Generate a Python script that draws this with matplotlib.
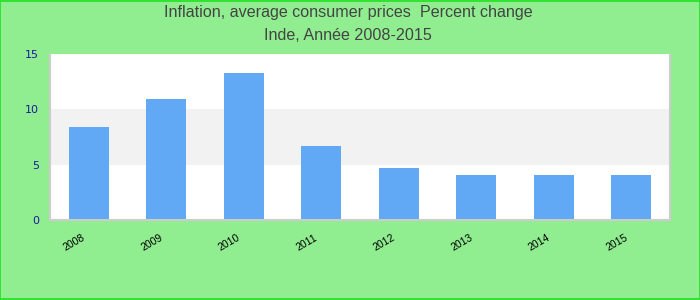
import matplotlib.pyplot as plt
from matplotlib.patches import Rectangle
from matplotlib.transforms import ScaledTranslation

# data
years = ["2008", "2009", "2010", "2011", "2012", "2013", "2014", "2015"]
inflation = [8.4, 10.9, 13.3, 6.7, 4.7, 4.1, 4.1, 4.1]
y_ticks = [0, 5, 10, 15]

title_line1 = "Inflation, average consumer prices  Percent change"
title_line2 = "Inde, Année 2008-2015"

bg = "#90ee90"
bar_color = "#62a9f5"

fig = plt.figure(figsize=(7, 3), dpi=100, facecolor=bg)
ax = fig.add_axes([50 / 700, 80 / 300, 620 / 700, 166 / 300])
ax.set_facecolor("white")

# alternating horizontal bands
ax.axhspan(5, 10, color="#f2f2f2", zorder=0, lw=0)

x = range(len(years))
ax.bar(x, inflation, width=0.52, color=bar_color, zorder=2)

ax.set_xlim(-0.5, len(years) - 0.5)
ax.set_ylim(0, 15)
ax.set_yticks(y_ticks)
ax.set_yticklabels([str(v) for v in y_ticks], color="#1a1a9c",
                   fontsize=8, family="DejaVu Sans")
ax.set_xticks(list(x))
ax.set_xticklabels(years, rotation=30, ha="right", rotation_mode="anchor",
                   fontsize=7.5, family="Liberation Sans", color="black")
ax.tick_params(axis="both", length=0)
ax.tick_params(axis="y", pad=8)
ax.tick_params(axis="x", pad=9)

# nudge the rotated year labels a little to the left
shift = ScaledTranslation(-7 / 100, 0, fig.dpi_scale_trans)
for lbl in ax.get_xticklabels():
    lbl.set_transform(lbl.get_transform() + shift)

for side in ["left", "bottom", "right"]:
    ax.spines[side].set_color("#cccccc")
    ax.spines[side].set_linewidth(1.5)
ax.spines["top"].set_visible(False)

fig.text(0.497, 1 - 13 / 300, title_line1, ha="center", va="center",
         fontsize=11.6, color="#444444", family="Liberation Sans")
fig.text(0.497, 1 - 36 / 300, title_line2, ha="center", va="center",
         fontsize=11.6, color="#444444", family="Liberation Sans")

# green frame round the figure
fig.patches.append(Rectangle((0.0007, 0.0017), 0.9986, 0.9966, transform=fig.transFigure,
                             fill=False, edgecolor="#22e022", lw=1.2))

fig.savefig("out.png", dpi=100, facecolor=bg)
